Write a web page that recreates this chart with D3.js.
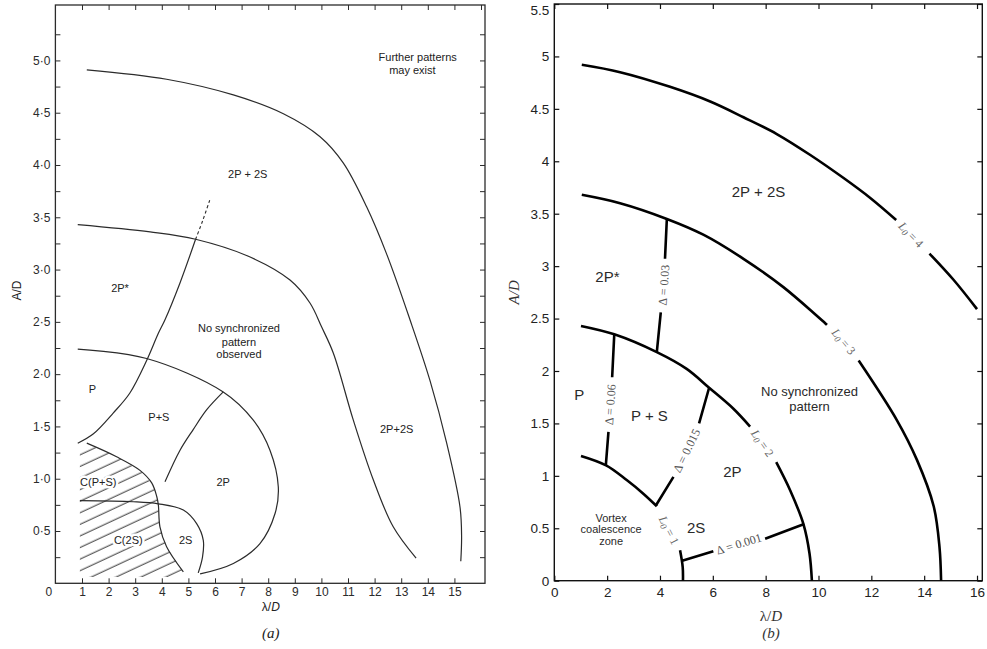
<!DOCTYPE html>
<html>
<head>
<meta charset="utf-8">
<script src="https://cdn.jsdelivr.net/npm/d3@7"></script>
<style>
  body { margin: 0; background: #fff; }
  svg { display: block; }
</style>
</head>
<body>
<svg id="chart" width="987" height="649"></svg>
<script>
// ---------- panel (a): experimental pattern map ----------
const aXTicks = [0, 1, 2, 3, 4, 5, 6, 7, 8, 9, 10, 11, 12, 13, 14, 15];
const aTopTicks = [1, 2, 3, 4, 5, 6, 7, 8, 9, 10, 11, 12, 13, 14, 15, 16];
const aYMajor = [0.5, 1.0, 1.5, 2.0, 2.5, 3.0, 3.5, 4.0, 4.5, 5.0];
const aYMinor = [0.25, 0.75, 1.25, 1.75, 2.25, 2.75, 3.25, 3.75, 4.25, 4.75, 5.25];

const aOuter = [[1.18, 4.91], [4.18, 4.82], [6.69, 4.67], [8.57, 4.49], [9.95, 4.27], [10.82, 4.02],
  [11.70, 3.60], [12.45, 3.15], [13.33, 2.52], [14.08, 1.94], [14.71, 1.34], [15.21, 0.73],
  [15.27, 0.45], [15.24, 0.21]];
const aMiddle = [[0.84, 3.43], [3.56, 3.36], [5.27, 3.29], [7.32, 3.12], [8.82, 2.90], [9.57, 2.68],
  [10.01, 2.45], [10.45, 2.20], [11.20, 1.56], [11.95, 0.99], [12.70, 0.54], [13.56, 0.24]];
const aInner = [[0.84, 2.24], [3.43, 2.15], [6.31, 1.83], [7.44, 1.56], [8.07, 1.27], [8.38, 0.92],
  [8.26, 0.67], [7.69, 0.38], [6.69, 0.19], [5.44, 0.09]];
const aPBoundary = [[0.84, 1.34], [1.43, 1.43], [2.18, 1.63], [2.80, 1.82], [3.43, 2.13], [3.87, 2.39],
  [4.12, 2.52], [4.68, 2.87], [5.27, 3.29]];
const aPBoundaryDashed = [[5.27, 3.29], [5.54, 3.47], [5.81, 3.67]];
const aPSto2P = [[6.31, 1.83], [5.69, 1.66], [5.18, 1.47], [4.68, 1.27], [4.12, 0.97]];
const aCoalescence = [[1.18, 1.34], [2.30, 1.21], [3.18, 1.08], [3.62, 0.96], [3.81, 0.83], [3.87, 0.75],
  [3.93, 0.54], [4.18, 0.35], [4.81, 0.11]];
const a2S = [[0.92, 0.79], [2.93, 0.78], [3.87, 0.76], [4.81, 0.70], [5.31, 0.57], [5.56, 0.41],
  [5.53, 0.25], [5.37, 0.10]];
// corners closing the hatched coalescence zone
const aHatchLeft = [[0.92, 0.06], [0.92, 1.28]];
const aHatchBottom = [[4.88, 0.06]];

const aLabels = [
  { t: "Further patterns", x: 13.62, y: 5.03 },
  { t: "may exist", x: 13.42, y: 4.91 },
  { t: "2P + 2S", x: 7.23, y: 3.91 },
  { t: "2P*", x: 2.43, y: 2.82 },
  { t: "No synchronized", x: 6.90, y: 2.44 },
  { t: "pattern", x: 6.90, y: 2.31 },
  { t: "observed", x: 6.90, y: 2.19 },
  { t: "P", x: 1.39, y: 1.86 },
  { t: "P+S", x: 3.89, y: 1.59 },
  { t: "C(P+S)", x: 1.61, y: 0.97, halo: true },
  { t: "2P", x: 6.31, y: 0.97 },
  { t: "C(2S)", x: 2.74, y: 0.41, halo: true },
  { t: "2S", x: 4.90, y: 0.41 },
  { t: "2P+2S", x: 12.83, y: 1.48 }
];

// ---------- panel (b): wake-length model ----------
const bXTicks = [0, 2, 4, 6, 8, 10, 12, 14, 16];
const bYTicks = [0, 0.5, 1, 1.5, 2, 2.5, 3, 3.5, 4, 4.5, 5, 5.5];

// null marks a break in the curve where its label sits
const bL1 = [[1.01, 1.19], [1.96, 1.10], [2.74, 0.96], [3.37, 0.83], [3.88, 0.71], null,
  [4.76, 0.29], [4.86, 0.13], [4.87, 0]];
const bL2 = [[1.01, 2.43], [2.27, 2.35], [3.88, 2.18], [5.01, 2.02], [5.86, 1.84], [6.78, 1.64],
  [7.41, 1.47], null, [8.40, 1.13], [8.93, 0.86], [9.43, 0.54], [9.66, 0.26], [9.75, 0]];
const bL3 = [[1.04, 3.68], [2.49, 3.60], [4.26, 3.45], [5.64, 3.30], [7.16, 3.07], [8.67, 2.80],
  [10.32, 2.44], null, [11.52, 2.10], [12.97, 1.53], [13.73, 1.15], [14.36, 0.71], [14.58, 0.32],
  [14.64, 0]];
const bL4 = [[1.04, 4.92], [2.49, 4.85], [4.38, 4.71], [5.90, 4.57], [7.16, 4.42], [8.42, 4.26],
  [9.69, 4.06], [10.95, 3.84], [11.96, 3.65], [12.94, 3.44], null, [14.20, 3.12], [15.11, 2.87],
  [16.0, 2.59]];

const bD003 = [[4.26, 3.45], [4.19, 3.07], null, [4.03, 2.56], [3.88, 2.18]];
const bD006 = [[2.27, 2.35], [2.19, 1.94], null, [2.05, 1.42], [1.95, 1.10]];
const bD0015 = [[5.86, 1.84], [5.48, 1.50], null, [4.51, 0.99], [3.85, 0.72]];
const bD0001 = [[4.84, 0.19], [6.02, 0.28], null, [7.98, 0.40], [9.46, 0.54]];

const bCurveLabels = [
  { sub: "1", x: 4.34, y: 0.48, a: 63 },
  { sub: "2", x: 7.88, y: 1.31, a: 55 },
  { sub: "3", x: 10.95, y: 2.28, a: 50 },
  { sub: "4", x: 13.50, y: 3.30, a: 46 }
];
const bDeltaLabels = [
  { t: "\u0394 = 0.03", x: 4.15, y: 2.82, a: -86 },
  { t: "\u0394 = 0.06", x: 2.12, y: 1.68, a: -86 },
  { t: "\u0394 = 0.015", x: 5.01, y: 1.24, a: -64 },
  { t: "\u0394 = 0.001", x: 6.99, y: 0.35, a: -17 }
];
const bLabels = [
  { t: "2P + 2S", x: 7.73, y: 3.71, s: 15 },
  { t: "2P*", x: 2.01, y: 2.90, s: 15 },
  { t: "P", x: 0.94, y: 1.78, s: 15 },
  { t: "P + S", x: 3.60, y: 1.58, s: 15 },
  { t: "No synchronized", x: 9.66, y: 1.80, s: 13 },
  { t: "pattern", x: 9.66, y: 1.66, s: 13 },
  { t: "2P", x: 6.74, y: 1.04, s: 15 },
  { t: "2S", x: 5.37, y: 0.51, s: 15 },
  { t: "Vortex", x: 2.15, y: 0.60, s: 11 },
  { t: "coalescence", x: 2.15, y: 0.49, s: 11 },
  { t: "zone", x: 2.15, y: 0.38, s: 11 }
];

// ---------- drawing ----------
const svg = d3.select("#chart");
const defs = svg.append("defs");

function styleAxis(sel, opts) {
  sel.select(".domain").remove();
  sel.attr("font-family", opts.font).attr("font-size", opts.size);
  sel.selectAll(".tick line").attr("stroke", opts.color).attr("stroke-width", opts.width);
  sel.selectAll(".tick text").attr("fill", opts.textColor || opts.color);
  return sel;
}

// ===== panel (a) =====
const xa = d3.scaleLinear().domain([0, 16.15]).range([55.4, 485]);
const ya = d3.scaleLinear().domain([0, 5.53]).range([583.3, 5]);
const ga = svg.append("g");
const inkA = "#2b2b2b";
const fontA = "'Liberation Sans', Arial, sans-serif";

// hatching for the coalescence zone
const hatch = defs.append("pattern")
  .attr("id", "hatchA")
  .attr("patternUnits", "userSpaceOnUse")
  .attr("width", 40).attr("height", 10.5)
  .attr("patternTransform", "rotate(-25)");
hatch.append("line")
  .attr("x1", 0).attr("y1", 5).attr("x2", 40).attr("y2", 5)
  .attr("stroke", inkA).attr("stroke-width", 1);

const hatchPoly = aHatchLeft.concat(aCoalescence, aHatchBottom);
ga.append("path")
  .attr("d", d3.line().x(d => xa(d[0])).y(d => ya(d[1]))(hatchPoly) + "Z")
  .attr("fill", "url(#hatchA)")
  .attr("stroke", "none");

// frame
ga.append("rect")
  .attr("x", xa(0)).attr("y", ya(5.53))
  .attr("width", xa(16.15) - xa(0)).attr("height", ya(0) - ya(5.53))
  .attr("fill", "none").attr("stroke", inkA).attr("stroke-width", 1.3);

const fmtA = d => d.toFixed(1).replace(".", "\u00B7");
const axOptsA = { font: fontA, size: 12, color: inkA, width: 1 };

ga.append("g").attr("transform", `translate(0,${ya(0)})`)
  .call(d3.axisBottom(xa).tickValues(aXTicks).tickSizeInner(-5).tickSizeOuter(0).tickPadding(4).tickFormat(d => d))
  .call(s => styleAxis(s, axOptsA))
  .call(s => s.selectAll(".tick").filter(d => d === 0).select("line").remove())
  .call(s => s.selectAll(".tick text").filter(d => d === 0).attr("dx", -7));

ga.append("g").attr("transform", `translate(0,${ya(5.53)})`)
  .call(d3.axisTop(xa).tickValues(aTopTicks).tickSizeInner(-5).tickSizeOuter(0).tickFormat(""))
  .call(s => styleAxis(s, axOptsA));

const aYAll = aYMajor.concat(aYMinor).sort((p, q) => p - q);
ga.append("g").attr("transform", `translate(${xa(0)},0)`)
  .call(d3.axisLeft(ya).tickValues(aYAll).tickSizeInner(-5).tickSizeOuter(0).tickPadding(5)
    .tickFormat(d => aYMajor.includes(d) ? fmtA(d) : ""))
  .call(s => styleAxis(s, axOptsA));

ga.append("g").attr("transform", `translate(${xa(16.15)},0)`)
  .call(d3.axisRight(ya).tickValues(aYAll).tickSizeInner(-5).tickSizeOuter(0).tickFormat(""))
  .call(s => styleAxis(s, axOptsA));

const lineA = d3.line().x(d => xa(d[0])).y(d => ya(d[1])).curve(d3.curveCatmullRom.alpha(0.5));
[aOuter, aMiddle, aInner, aPBoundary, aPSto2P, aCoalescence, a2S].forEach(c => {
  ga.append("path").attr("d", lineA(c))
    .attr("fill", "none").attr("stroke", inkA).attr("stroke-width", 1.2);
});
ga.append("path").attr("d", lineA(aPBoundaryDashed))
  .attr("fill", "none").attr("stroke", inkA).attr("stroke-width", 1.1)
  .attr("stroke-dasharray", "3,2.5");

// region names; the ones inside the hatching get a white halo
ga.append("g").selectAll("text").data(aLabels).join("text")
  .attr("x", d => xa(d.x)).attr("y", d => ya(d.y))
  .attr("text-anchor", "middle").attr("dominant-baseline", "central")
  .attr("font-family", fontA).attr("font-size", 11).attr("fill", "#222")
  .attr("stroke", d => d.halo ? "#fff" : "none")
  .attr("stroke-width", d => d.halo ? 5 : 0)
  .attr("stroke-linejoin", "round")
  .attr("paint-order", "stroke")
  .text(d => d.t);

// axis titles (a)
ga.append("text")
  .attr("transform", `translate(17,${ya(2.8)}) rotate(-90)`)
  .attr("text-anchor", "middle").attr("dominant-baseline", "central")
  .attr("font-family", fontA).attr("font-size", 12).attr("fill", "#222")
  .text("A/D");
const xTitleA = ga.append("text")
  .attr("x", xa(8.1)).attr("y", 611)
  .attr("text-anchor", "middle")
  .attr("font-family", fontA).attr("font-size", 12).attr("fill", "#222");
xTitleA.append("tspan").text("\u03BB/");
xTitleA.append("tspan").attr("font-style", "italic").text("D");
ga.append("text")
  .attr("x", xa(8.1)).attr("y", 638)
  .attr("text-anchor", "middle")
  .attr("font-family", "'Liberation Serif', 'Times New Roman', serif")
  .attr("font-size", 15).attr("font-style", "italic").attr("fill", "#222")
  .text("(a)");

// ===== panel (b) =====
const xb = d3.scaleLinear().domain([0, 16.2]).range([554.3, 982.3]);
const yb = d3.scaleLinear().domain([0, 5.5]).range([580.7, 4]);
const gb = svg.append("g");
const fontB = "'Liberation Sans', Arial, sans-serif";
const serifB = "'Liberation Serif', 'Times New Roman', serif";
const axOptsB = { font: fontB, size: 13.5, color: "#111", width: 1.2, textColor: "#222" };

gb.append("rect")
  .attr("x", xb(0)).attr("y", yb(5.5))
  .attr("width", xb(16.2) - xb(0)).attr("height", yb(0) - yb(5.5))
  .attr("fill", "none").attr("stroke", "#111").attr("stroke-width", 1.4);

gb.append("g").attr("transform", `translate(0,${yb(0)})`)
  .call(d3.axisBottom(xb).tickValues(bXTicks).tickSizeInner(-5).tickSizeOuter(0).tickPadding(7).tickFormat(d => d))
  .call(s => styleAxis(s, axOptsB));
gb.append("g").attr("transform", `translate(0,${yb(5.5)})`)
  .call(d3.axisTop(xb).tickValues(bXTicks).tickSizeInner(-5).tickSizeOuter(0).tickFormat(""))
  .call(s => styleAxis(s, axOptsB));
gb.append("g").attr("transform", `translate(${xb(0)},0)`)
  .call(d3.axisLeft(yb).tickValues(bYTicks).tickSizeInner(-5).tickSizeOuter(0).tickPadding(5).tickFormat(d => d))
  .call(s => styleAxis(s, axOptsB))
  .call(s => s.selectAll(".tick text").filter(d => d === 5.5).attr("dy", "0.75em"));
gb.append("g").attr("transform", `translate(${xb(16.2)},0)`)
  .call(d3.axisRight(yb).tickValues(bYTicks).tickSizeInner(-5).tickSizeOuter(0).tickFormat(""))
  .call(s => styleAxis(s, axOptsB));

const lineB = d3.line().defined(d => d !== null)
  .x(d => xb(d[0])).y(d => yb(d[1])).curve(d3.curveCatmullRom.alpha(0.5));
[bL1, bL2, bL3, bL4].forEach(c => {
  gb.append("path").attr("d", lineB(c))
    .attr("fill", "none").attr("stroke", "#000").attr("stroke-width", 2.6);
});
const lineBStraight = d3.line().defined(d => d !== null).x(d => xb(d[0])).y(d => yb(d[1]));
[bD003, bD006, bD0015, bD0001].forEach(c => {
  gb.append("path").attr("d", lineBStraight(c))
    .attr("fill", "none").attr("stroke", "#000").attr("stroke-width", 2.6);
});

// wake-length labels along the curves
gb.append("g").selectAll("text").data(bCurveLabels).join("text")
  .attr("transform", d => `translate(${xb(d.x)},${yb(d.y)}) rotate(${d.a})`)
  .attr("text-anchor", "middle").attr("dominant-baseline", "central")
  .attr("font-family", serifB).attr("font-size", 12).attr("fill", "#666")
  .each(function (d) {
    const t = d3.select(this);
    t.append("tspan").attr("font-style", "italic").text("L");
    t.append("tspan").attr("font-style", "italic").attr("font-size", 9).attr("dy", 3).text("0");
    t.append("tspan").attr("dy", -3).text(" = " + d.sub);
  });

// spacing labels along the separators
gb.append("g").selectAll("text").data(bDeltaLabels).join("text")
  .attr("transform", d => `translate(${xb(d.x)},${yb(d.y)}) rotate(${d.a})`)
  .attr("text-anchor", "middle").attr("dominant-baseline", "central")
  .attr("font-family", serifB).attr("font-size", 12).attr("fill", "#555")
  .text(d => d.t);

gb.append("g").selectAll("text").data(bLabels).join("text")
  .attr("x", d => xb(d.x)).attr("y", d => yb(d.y))
  .attr("text-anchor", "middle").attr("dominant-baseline", "central")
  .attr("font-family", fontB).attr("font-size", d => d.s).attr("fill", "#2a2a2a")
  .text(d => d.t);

// axis titles (b)
gb.append("text")
  .attr("transform", `translate(514,${yb(2.75)}) rotate(-90)`)
  .attr("text-anchor", "middle").attr("dominant-baseline", "central")
  .attr("font-family", serifB).attr("font-size", 15).attr("fill", "#333")
  .attr("font-style", "italic")
  .text("A/D");
const xTitleB = gb.append("text")
  .attr("x", xb(8.2)).attr("y", 621)
  .attr("text-anchor", "middle")
  .attr("font-family", serifB).attr("font-size", 15).attr("fill", "#333");
xTitleB.append("tspan").text("\u03BB/");
xTitleB.append("tspan").attr("font-style", "italic").text("D");
gb.append("text")
  .attr("x", xb(8.2)).attr("y", 638)
  .attr("text-anchor", "middle")
  .attr("font-family", serifB).attr("font-size", 15).attr("font-style", "italic").attr("fill", "#333")
  .text("(b)");
</script>
</body>
</html>
